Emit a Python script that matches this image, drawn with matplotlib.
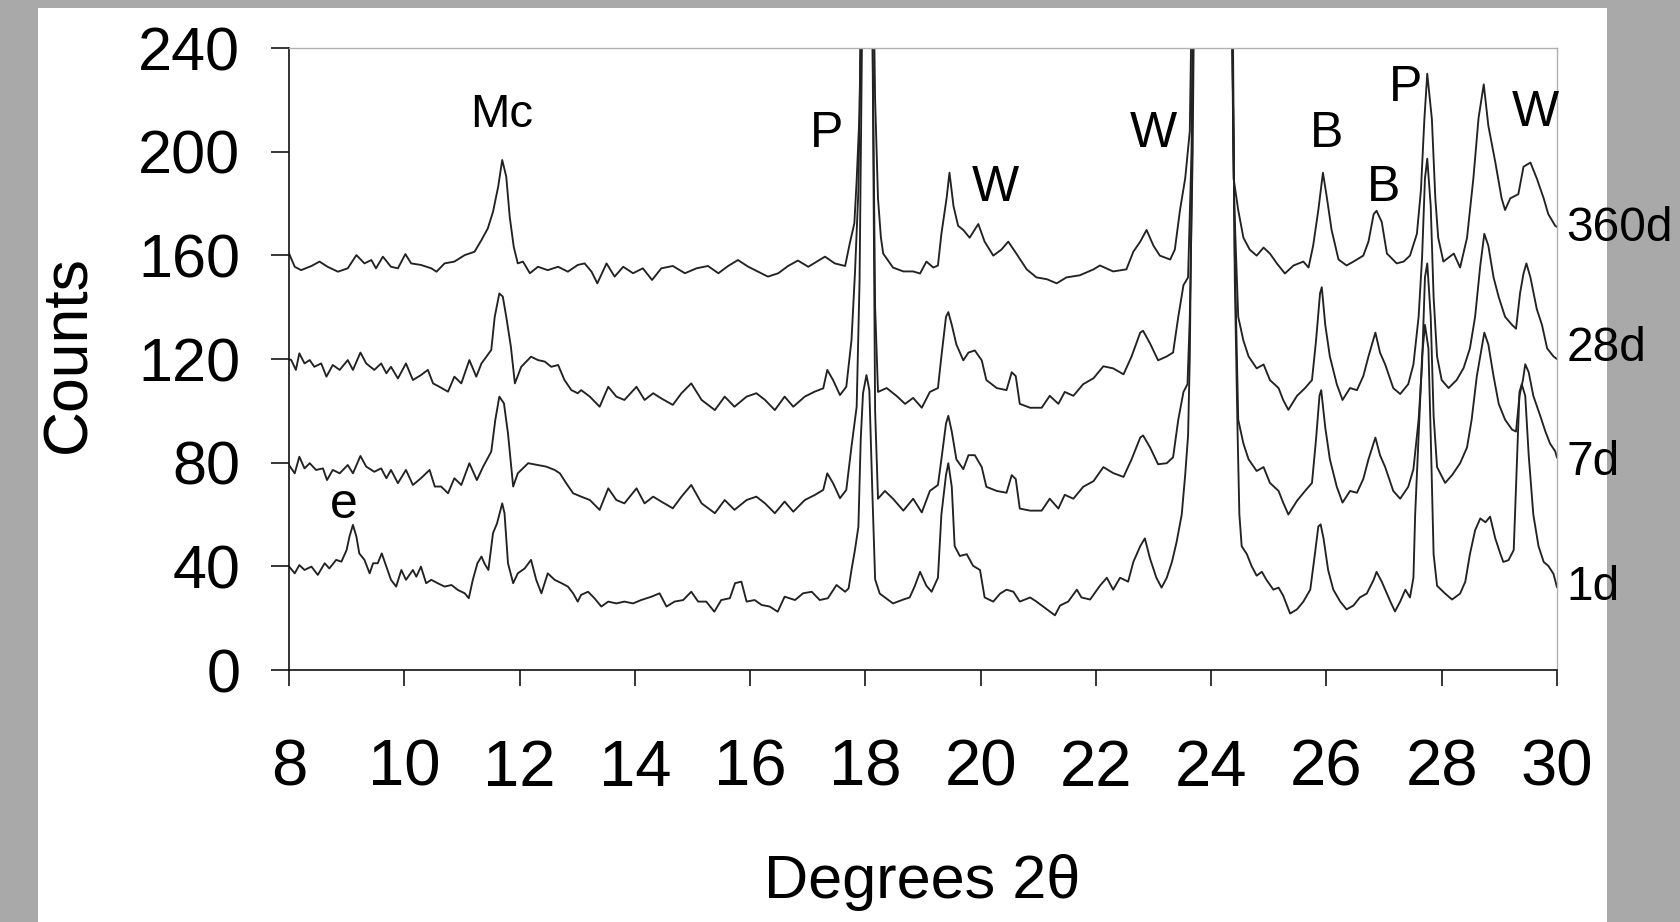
import matplotlib
matplotlib.use('Agg')
import matplotlib.pyplot as plt
from matplotlib.patches import Rectangle

# XRD patterns (2-theta in degrees, counts)
x_360d = [8.0, 8.1, 8.21, 8.39, 8.53, 8.67, 8.85, 9.02, 9.17, 9.31, 9.43, 9.51, 9.63, 9.77, 9.89,
          10.02, 10.12, 10.29, 10.47, 10.56, 10.7, 10.87, 11.05, 11.22, 11.34, 11.45, 11.54, 11.63,
          11.7, 11.77, 11.83, 11.9, 11.97, 12.06, 12.18, 12.32, 12.49, 12.67, 12.84, 13.01, 13.13,
          13.25, 13.35, 13.51, 13.65, 13.8, 13.97, 14.14, 14.3, 14.46, 14.66, 14.87, 15.07, 15.27,
          15.45, 15.62, 15.79, 15.97, 16.14, 16.31, 16.49, 16.66, 16.83, 17.01, 17.3, 17.47, 17.65,
          17.73, 17.81, 17.85, 17.9, 17.95, 18.12, 18.17, 18.22, 18.27, 18.31, 18.48, 18.66, 18.83,
          18.95, 19.06, 19.18, 19.26, 19.32, 19.41, 19.46, 19.53, 19.61, 19.7, 19.81, 19.96, 20.07,
          20.22, 20.36, 20.48, 20.62, 20.8, 20.97, 21.15, 21.32, 21.49, 21.72, 21.96, 22.07, 22.3,
          22.53, 22.65, 22.77, 22.88, 23.0, 23.11, 23.29, 23.37, 23.46, 23.55, 23.63, 23.69, 24.34,
          24.39, 24.47, 24.56, 24.67, 24.79, 24.91, 25.02, 25.14, 25.28, 25.43, 25.6, 25.69, 25.77,
          25.86, 25.94, 26.01, 26.09, 26.21, 26.35, 26.47, 26.64, 26.73, 26.82, 26.87, 26.96, 27.05,
          27.22, 27.34, 27.45, 27.57, 27.64, 27.7, 27.75, 27.83, 27.89, 27.94, 28.03, 28.21, 28.32,
          28.44, 28.55, 28.64, 28.73, 28.81, 28.93, 29.04, 29.1, 29.19, 29.33, 29.42, 29.54, 29.65,
          29.77, 29.85, 29.97, 30.0]
y_360d = [160.8, 155.6, 154.3, 155.9, 157.6, 155.6, 153.7, 155.0, 160.1, 156.9, 158.2, 155.0, 159.5,
          155.6, 155.0, 160.5, 156.9, 156.3, 155.0, 153.7, 156.9, 157.6, 160.1, 161.4, 165.9, 170.4,
          176.8, 186.5, 196.8, 190.4, 174.9, 163.3, 156.9, 157.6, 153.1, 155.6, 154.3, 155.6, 153.7,
          156.3, 156.9, 153.7, 149.2, 156.9, 151.8, 155.6, 153.1, 155.0, 150.5, 155.0, 155.9, 153.1,
          155.0, 155.9, 153.1, 155.9, 158.2, 155.6, 153.7, 151.8, 153.1, 155.9, 158.0, 155.6, 159.5,
          156.9, 155.9, 164.6, 172.4, 189.0, 215.0, 300.0, 300.0, 220.0, 182.0, 167.0, 160.7, 155.3,
          153.8, 153.8, 153.0, 157.6, 155.3, 156.1, 168.3, 182.0, 191.9, 179.0, 171.4, 169.8, 166.8,
          172.1, 165.3, 159.9, 162.2, 165.3, 160.7, 154.6, 151.5, 150.8, 149.2, 151.5, 152.3, 154.6,
          156.1, 153.8, 154.6, 161.4, 165.3, 169.8, 163.7, 159.9, 158.4, 162.2, 177.5, 189.7, 208.0,
          300.0, 300.0, 189.7, 177.5, 166.8, 162.2, 159.9, 163.0, 160.7, 156.9, 153.0, 156.1, 157.6,
          155.3, 163.7, 177.5, 191.9, 182.0, 169.8, 158.4, 156.1, 157.6, 159.9, 165.3, 175.9, 177.2,
          172.9, 160.7, 156.9, 157.6, 159.9, 168.3, 185.1, 212.6, 230.1, 212.6, 182.0, 166.8, 157.6,
          160.7, 155.3, 166.8, 189.7, 213.0, 226.0, 210.0, 196.0, 182.0, 177.5, 182.0, 183.6, 194.2,
          195.8, 189.7, 182.0, 175.9, 171.4, 171.0]

x_28d = [8.0, 8.04, 8.12, 8.18, 8.27, 8.36, 8.44, 8.56, 8.65, 8.76, 8.88, 9.02, 9.11, 9.24, 9.34,
         9.48, 9.6, 9.69, 9.77, 9.89, 10.03, 10.15, 10.29, 10.41, 10.5, 10.61, 10.76, 10.87, 10.99,
         11.13, 11.25, 11.34, 11.51, 11.57, 11.65, 11.71, 11.77, 11.85, 11.92, 12.03, 12.2, 12.32,
         12.44, 12.55, 12.67, 12.78, 12.9, 13.01, 13.07, 13.22, 13.39, 13.54, 13.68, 13.82, 14.03,
         14.17, 14.32, 14.46, 14.66, 14.81, 14.98, 15.16, 15.39, 15.56, 15.73, 15.94, 16.11, 16.26,
         16.43, 16.6, 16.75, 16.95, 17.12, 17.27, 17.34, 17.44, 17.56, 17.67, 17.76, 17.82, 17.88,
         17.93, 18.12, 18.17, 18.22, 18.37, 18.54, 18.69, 18.83, 18.98, 19.12, 19.26, 19.32, 19.4,
         19.44, 19.5, 19.58, 19.7, 19.79, 19.9, 20.02, 20.1, 20.28, 20.45, 20.54, 20.61, 20.68,
         20.86, 21.06, 21.2, 21.35, 21.46, 21.61, 21.78, 21.96, 22.13, 22.3, 22.48, 22.62, 22.77,
         22.82, 22.94, 23.08, 23.23, 23.34, 23.43, 23.52, 23.6, 23.66, 23.7, 24.34, 24.4, 24.47,
         24.56, 24.65, 24.79, 24.91, 25.02, 25.17, 25.25, 25.34, 25.49, 25.63, 25.75, 25.82, 25.89,
         25.92, 25.98, 26.06, 26.18, 26.28, 26.41, 26.53, 26.64, 26.73, 26.85, 26.93, 27.02, 27.16,
         27.28, 27.42, 27.51, 27.6, 27.66, 27.71, 27.75, 27.81, 27.86, 27.92, 28.0, 28.12, 28.26,
         28.38, 28.49, 28.58, 28.67, 28.74, 28.81, 28.9, 28.99, 29.1, 29.22, 29.29, 29.36, 29.42,
         29.47, 29.54, 29.65, 29.74, 29.83, 29.94, 30.0]
y_28d = [120.0, 119.6, 115.8, 122.2, 118.3, 119.6, 117.0, 118.3, 113.2, 117.7, 115.8, 119.6, 115.8,
         122.5, 118.3, 115.8, 118.3, 114.5, 117.0, 112.5, 118.3, 111.9, 113.8, 115.8, 110.6, 109.3,
         107.4, 113.2, 110.6, 119.6, 113.2, 118.3, 123.5, 136.3, 145.3, 144.1, 136.3, 124.8, 110.6,
         117.0, 120.9, 119.6, 119.0, 117.0, 117.7, 111.9, 108.0, 106.8, 108.0, 105.5, 101.6, 109.3,
         105.5, 104.2, 109.3, 104.2, 106.8, 104.8, 102.3, 106.8, 110.6, 104.2, 100.3, 105.5, 101.6,
         105.5, 106.8, 104.2, 100.3, 105.5, 101.6, 105.5, 107.4, 108.7, 115.8, 111.9, 106.1, 109.3,
         127.3, 153.0, 185.2, 260.0, 260.0, 140.0, 107.3, 108.8, 105.8, 102.7, 105.0, 101.2, 107.3,
         108.8, 121.0, 136.3, 138.1, 133.2, 125.6, 119.5, 122.5, 123.3, 119.5, 111.9, 108.8, 108.0,
         114.9, 113.4, 102.7, 101.2, 101.2, 105.8, 102.7, 107.3, 105.8, 110.3, 112.6, 117.2, 116.4,
         114.1, 121.0, 130.2, 130.9, 126.0, 119.5, 121.0, 122.5, 136.3, 148.5, 151.5, 200.0, 300.0,
         300.0, 180.0, 136.3, 127.1, 121.0, 116.4, 117.9, 111.9, 108.8, 104.2, 100.4, 105.8, 108.8,
         111.9, 127.1, 145.4, 147.7, 133.2, 121.0, 110.3, 104.2, 108.8, 108.0, 113.4, 121.0, 130.2,
         122.5, 117.9, 108.8, 106.5, 110.3, 117.9, 136.3, 159.2, 189.7, 197.3, 179.0, 143.9, 121.0,
         111.9, 108.8, 111.9, 116.5, 124.1, 136.3, 156.1, 168.3, 163.7, 151.5, 143.9, 136.3, 133.2,
         131.7, 145.4, 153.0, 156.9, 151.5, 139.3, 133.2, 124.1, 121.0, 120.0]

x_7d = [8.0, 8.1, 8.18, 8.27, 8.36, 8.47, 8.59, 8.66, 8.76, 8.88, 9.02, 9.11, 9.24, 9.34, 9.48, 9.6,
        9.69, 9.77, 9.89, 10.03, 10.15, 10.29, 10.44, 10.53, 10.64, 10.76, 10.87, 10.99, 11.13, 11.26,
        11.37, 11.51, 11.58, 11.65, 11.73, 11.8, 11.89, 11.97, 12.15, 12.32, 12.46, 12.61, 12.7, 12.81,
        12.93, 13.07, 13.22, 13.39, 13.54, 13.68, 13.82, 14.03, 14.17, 14.32, 14.46, 14.66, 14.81,
        14.98, 15.16, 15.39, 15.56, 15.73, 15.94, 16.11, 16.26, 16.43, 16.6, 16.75, 16.95, 17.12,
        17.27, 17.34, 17.44, 17.56, 17.67, 17.76, 17.85, 17.9, 17.95, 18.12, 18.17, 18.22, 18.34,
        18.48, 18.66, 18.83, 18.98, 19.12, 19.26, 19.32, 19.4, 19.44, 19.5, 19.58, 19.7, 19.79, 19.9,
        20.02, 20.1, 20.28, 20.45, 20.54, 20.61, 20.68, 20.86, 21.06, 21.2, 21.35, 21.46, 21.61,
        21.78, 21.96, 22.13, 22.3, 22.48, 22.62, 22.77, 22.82, 22.94, 23.08, 23.23, 23.34, 23.43,
        23.52, 23.59, 23.63, 23.68, 23.72, 24.34, 24.41, 24.47, 24.56, 24.65, 24.79, 24.91, 25.02,
        25.17, 25.25, 25.34, 25.49, 25.63, 25.75, 25.82, 25.88, 25.91, 25.98, 26.06, 26.18, 26.28,
        26.41, 26.53, 26.64, 26.73, 26.85, 26.93, 27.02, 27.16, 27.28, 27.42, 27.51, 27.6, 27.66,
        27.71, 27.75, 27.81, 27.86, 27.92, 28.06, 28.18, 28.32, 28.44, 28.52, 28.61, 28.68, 28.74,
        28.81, 28.9, 28.99, 29.1, 29.22, 29.29, 29.35, 29.41, 29.45, 29.51, 29.59, 29.71, 29.8,
        29.88, 29.97, 30.0]
y_7d = [79.1, 75.9, 82.3, 77.8, 79.8, 77.2, 77.8, 73.3, 77.2, 75.9, 79.1, 75.9, 82.6, 78.5, 76.5,
        77.8, 74.0, 77.2, 72.1, 77.2, 71.4, 74.0, 77.2, 70.8, 70.8, 68.2, 74.0, 71.4, 79.8, 73.3,
        78.5, 84.3, 96.5, 105.5, 102.9, 91.3, 70.8, 75.9, 79.8, 79.1, 78.5, 77.2, 75.9, 72.1, 68.2,
        66.9, 65.6, 61.8, 70.1, 65.6, 64.3, 70.1, 64.3, 66.9, 65.0, 62.4, 66.9, 71.4, 64.3, 60.5,
        65.6, 61.8, 65.6, 66.9, 64.3, 60.5, 65.0, 61.1, 65.6, 67.5, 69.5, 75.9, 72.1, 66.3, 69.5,
        86.2, 101.6, 150.0, 260.0, 260.0, 100.0, 66.1, 69.1, 66.1, 61.5, 66.1, 60.8, 69.1, 71.4,
        81.3, 95.1, 98.1, 92.0, 81.3, 77.5, 82.9, 82.9, 78.3, 70.7, 69.1, 68.4, 75.2, 73.7, 62.3,
        61.5, 61.5, 66.1, 62.3, 67.6, 66.1, 70.7, 72.9, 78.3, 76.0, 74.5, 81.3, 89.7, 90.5, 85.9,
        79.4, 79.8, 82.1, 96.6, 107.3, 110.3, 136.3, 200.0, 300.0, 300.0, 160.0, 96.6, 87.4, 81.3,
        76.8, 78.3, 72.2, 69.1, 64.6, 60.0, 65.3, 69.1, 72.2, 89.0, 105.8, 108.0, 93.6, 81.3, 70.7,
        64.6, 69.1, 68.4, 73.7, 81.3, 89.7, 82.9, 78.3, 69.1, 66.1, 70.7, 77.5, 96.6, 118.0, 151.5,
        156.9, 136.3, 98.1, 78.3, 72.2, 75.2, 79.8, 85.9, 96.6, 113.4, 122.5, 130.2, 125.6, 113.4,
        102.7, 96.6, 92.8, 92.0, 105.8, 111.9, 118.0, 114.9, 105.8, 98.1, 92.0, 87.4, 84.4, 82.0]

x_1d = [8.0, 8.1, 8.18, 8.27, 8.39, 8.5, 8.62, 8.7, 8.82, 8.91, 9.0, 9.05, 9.11, 9.17, 9.22, 9.31,
        9.4, 9.46, 9.54, 9.61, 9.69, 9.77, 9.86, 9.95, 10.03, 10.15, 10.21, 10.29, 10.38, 10.47,
        10.58, 10.7, 10.82, 10.93, 11.05, 11.12, 11.19, 11.27, 11.34, 11.39, 11.46, 11.54, 11.61,
        11.7, 11.74, 11.8, 11.89, 11.97, 12.09, 12.2, 12.29, 12.38, 12.49, 12.61, 12.73, 12.84,
        12.93, 13.01, 13.07, 13.19, 13.3, 13.42, 13.54, 13.68, 13.82, 13.97, 14.11, 14.29, 14.43,
        14.55, 14.69, 14.84, 14.98, 15.1, 15.24, 15.38, 15.5, 15.65, 15.74, 15.85, 15.94, 16.08,
        16.2, 16.34, 16.48, 16.6, 16.78, 16.92, 17.07, 17.21, 17.35, 17.5, 17.65, 17.71, 17.76,
        17.82, 17.88, 17.92, 17.96, 18.02, 18.07, 18.12, 18.17, 18.25, 18.48, 18.66, 18.77, 18.86,
        18.95, 19.06, 19.15, 19.26, 19.32, 19.4, 19.44, 19.5, 19.55, 19.64, 19.76, 19.87, 19.99,
        20.07, 20.22, 20.34, 20.45, 20.57, 20.68, 20.86, 20.97, 21.15, 21.29, 21.38, 21.52, 21.67,
        21.75, 21.9, 22.07, 22.19, 22.3, 22.42, 22.56, 22.65, 22.77, 22.85, 22.94, 23.05, 23.14,
        23.23, 23.32, 23.4, 23.49, 23.55, 23.6, 23.63, 23.66, 23.7, 24.36, 24.41, 24.46, 24.49,
        24.53, 24.62, 24.7, 24.79, 24.88, 24.96, 25.08, 25.17, 25.25, 25.37, 25.49, 25.6, 25.72,
        25.8, 25.86, 25.9, 25.95, 26.03, 26.12, 26.24, 26.35, 26.47, 26.58, 26.7, 26.82, 26.87,
        26.96, 27.05, 27.11, 27.19, 27.28, 27.37, 27.45, 27.51, 27.54, 27.6, 27.66, 27.71, 27.77,
        27.81, 27.86, 27.92, 28.06, 28.18, 28.32, 28.41, 28.49, 28.58, 28.67, 28.76, 28.84, 28.93,
        29.02, 29.07, 29.16, 29.25, 29.31, 29.35, 29.39, 29.45, 29.51, 29.59, 29.68, 29.77, 29.85,
        29.94, 30.0]
y_1d = [40.0, 37.3, 40.5, 38.6, 39.9, 36.7, 41.2, 39.2, 42.5, 41.8, 46.3, 51.5, 56.0, 51.5, 45.0,
        42.5, 37.3, 41.2, 41.2, 45.0, 39.9, 34.8, 32.2, 38.6, 34.8, 38.6, 36.0, 39.9, 33.5, 34.8,
        33.5, 32.2, 32.8, 30.9, 29.6, 27.7, 34.8, 41.2, 43.8, 41.2, 38.6, 52.8, 56.6, 64.3, 60.5,
        41.2, 33.5, 37.3, 39.2, 42.5, 34.8, 29.6, 37.3, 34.8, 33.5, 32.2, 29.6, 26.4, 29.0, 30.2,
        27.7, 24.5, 26.4, 25.7, 26.4, 25.7, 27.0, 28.3, 29.6, 24.5, 26.4, 27.0, 30.2, 26.4, 26.4,
        22.5, 27.0, 27.7, 33.5, 34.1, 26.4, 27.0, 25.1, 24.5, 22.5, 28.3, 27.0, 29.6, 30.2, 27.0,
        27.7, 32.8, 30.2, 31.5, 38.6, 46.3, 55.3, 88.8, 106.8, 113.8, 108.0, 70.0, 35.0, 29.5,
        25.7, 27.2, 28.0, 32.5, 37.9, 32.5, 30.2, 35.6, 60.0, 75.3, 79.8, 70.7, 47.8, 44.0, 44.7,
        40.2, 38.6, 28.0, 26.4, 29.5, 31.0, 30.2, 26.4, 28.0, 26.4, 23.4, 21.1, 24.9, 26.4, 31.0,
        28.0, 27.2, 32.5, 35.6, 31.0, 35.6, 34.1, 41.7, 47.8, 50.8, 43.0, 35.6, 31.8, 35.6, 41.7,
        49.3, 60.0, 75.3, 90.5, 121.0, 182.0, 300.0, 300.0, 151.5, 90.5, 60.0, 47.8, 44.7, 40.2,
        36.4, 37.9, 34.8, 31.0, 31.8, 28.7, 21.8, 23.4, 26.4, 31.0, 44.7, 55.4, 56.2, 50.8, 38.6,
        31.0, 26.4, 23.4, 24.9, 28.0, 29.5, 34.8, 37.9, 34.1, 29.5, 26.4, 22.6, 26.4, 31.0, 28.0,
        35.6, 60.0, 90.5, 121.0, 133.2, 124.1, 90.5, 44.7, 32.5, 29.5, 27.2, 29.5, 34.1, 44.7, 53.9,
        58.5, 57.0, 59.2, 50.8, 44.7, 41.7, 42.4, 46.3, 82.9, 107.3, 110.3, 105.8, 82.9, 60.0, 47.8,
        41.7, 40.2, 37.1, 32.0]

series_names = ['360d', '28d', '7d', '1d']
series_label_y = [170.5, 124, 80, 32]

# phase labels and where they sit (2-theta, counts at baseline)
phase_labels = ['Mc', 'P', 'W', 'W', 'B', 'B', 'P', 'W', 'e']
phase_x = [11.69, 17.33, 20.25, 23.0, 26.0, 27.0, 27.37, 29.62, 8.95]
phase_y = [209.7, 201.8, 181.0, 201.9, 201.9, 181.0, 219.5, 210.0, 58.5]

x_ticks = [8, 10, 12, 14, 16, 18, 20, 22, 24, 26, 28, 30]
y_ticks = [0, 40, 80, 120, 160, 200, 240]

plt.rcParams['font.family'] = ['Liberation Sans', 'DejaVu Sans']

fig = plt.figure(figsize=(16.81, 9.22), dpi=100)
fig.patch.set_facecolor('#a9a9a9')
fig.patches.append(Rectangle((0.0226, 0.0), 0.9334, 0.991, transform=fig.transFigure,
                             facecolor='white', edgecolor='none', zorder=-5))

ax = fig.add_axes([0.1719, 0.2733, 0.7543, 0.6746])
ax.set_facecolor('white')

traces = [(x_360d, y_360d), (x_28d, y_28d), (x_7d, y_7d), (x_1d, y_1d)]
for xs, ys in traces:
    ax.plot(xs, ys, color='#222222', lw=1.35)

ax.set_xlim(8, 30)
ax.set_ylim(0, 240)
ax.set_xticks(x_ticks)
ax.set_yticks(y_ticks)

for sp in ['left', 'bottom']:
    ax.spines[sp].set_color('#111111')
    ax.spines[sp].set_linewidth(1.2)
for sp in ['top', 'right']:
    ax.spines[sp].set_color('#b0b0b0')
    ax.spines[sp].set_linewidth(1.0)

ax.tick_params(axis='y', direction='out', length=13, width=1.1, pad=22, labelsize=44)
ax.tick_params(axis='x', direction='out', length=11.5, width=1.1, pad=38, labelsize=47)

for name, yy in zip(series_names, series_label_y):
    ax.text(30.16, yy, name, fontsize=34.5, ha='left', va='center', clip_on=False)

for lab, px, py in zip(phase_labels, phase_x, phase_y):
    ax.text(px, py, lab, fontsize=36 if lab != 'Mc' else 34, ha='center', va='baseline')

fig.text(69 / 1681, 1 - 354 / 922, 'Counts', rotation=90, fontsize=45, ha='center', va='center')
fig.text(922 / 1681, 1 - 882 / 922, 'Degrees 2θ', fontsize=44, ha='center', va='center')

fig.savefig('out.png', dpi=100, facecolor=fig.get_facecolor())
